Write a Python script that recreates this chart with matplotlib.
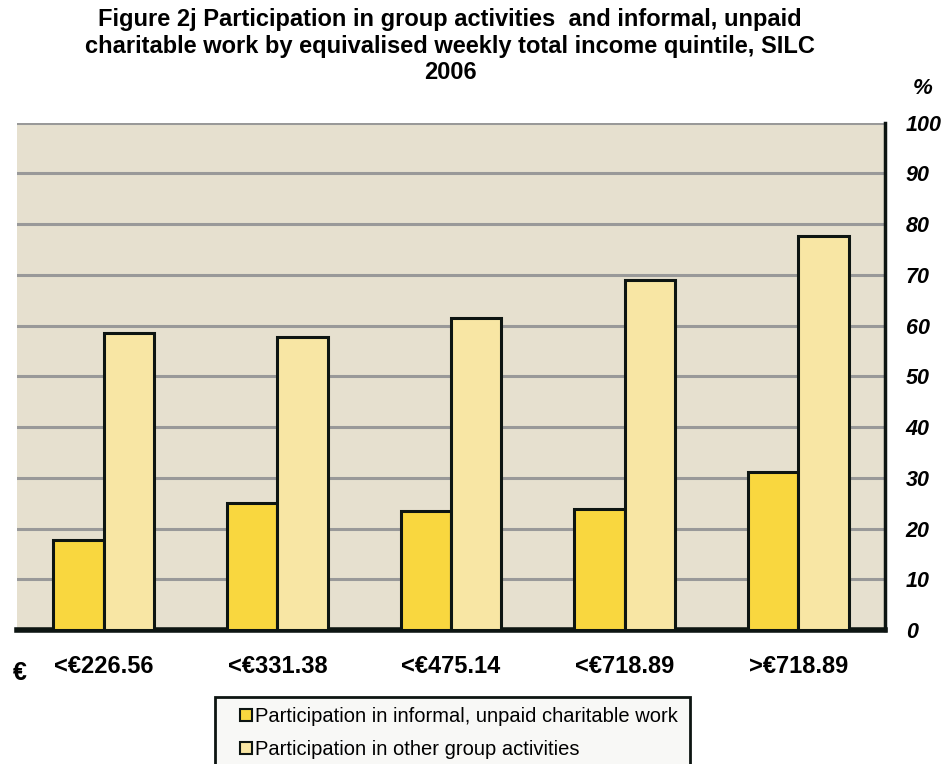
import matplotlib.pyplot as plt
from matplotlib.patches import Rectangle
import numpy as np

plt.rcParams['font.family'] = ['Liberation Sans', 'DejaVu Sans']

categories = ['<€226.56', '<€331.38', '<€475.14', '<€718.89', '>€718.89']
charitable = [17.8, 25.0, 23.5, 23.9, 31.1]
group_act = [58.6, 57.8, 61.5, 69.0, 77.6]
series_names = ['Participation in informal, unpaid charitable work',
                'Participation in other group activities']

W, H = 942, 764
fig = plt.figure(figsize=(W / 100, H / 100), dpi=100)
ax = fig.add_axes([0.018, 0.1754, 0.9215, 0.664])
ax.set_facecolor('#E6E0CF')

x = np.arange(len(categories))
w = 0.29
ax.bar(x - w / 2, charitable, w, color='#F9D73F', edgecolor='#0d1512', linewidth=2.2,
       label=series_names[0], zorder=3)
ax.bar(x + w / 2, group_act, w, color='#F8E6A4', edgecolor='#0d1512', linewidth=2.2,
       label=series_names[1], zorder=3)

ax.set_xlim(-0.5, len(categories) - 0.5)
ax.set_ylim(0, 100)
ax.set_yticks(range(0, 101, 10))
ax.yaxis.tick_right()
ax.tick_params(axis='y', length=0, pad=15)
ax.tick_params(axis='x', length=0, pad=18)
for lab in ax.get_yticklabels():
    lab.set_fontsize(15.5)
    lab.set_fontweight('bold')
    lab.set_fontstyle('italic')
ax.set_xticks(x)
ax.set_xticklabels(categories, fontsize=17, fontweight='bold')

ax.grid(axis='y', color='#999999', linewidth=2.2, zorder=0)
ax.set_axisbelow(True)
ax.spines['left'].set_visible(False)
ax.spines['top'].set_visible(False)
ax.spines['right'].set_color('#0d1512')
ax.spines['right'].set_linewidth(2.5)
ax.spines['bottom'].set_color('#0d1512')
ax.spines['bottom'].set_linewidth(4)

fig.text(0.478, 1 - 8 / H, 'Figure 2j Participation in group activities  and informal, unpaid\n'
         'charitable work by equivalised weekly total income quintile, SILC\n2006',
         ha='center', va='top', fontsize=17, fontweight='bold', linespacing=1.2)
fig.text(0.979, 1 - 88 / H, '%', ha='center', va='center', fontsize=16,
         fontweight='bold', fontstyle='italic')
fig.text(20 / W, 1 - 673 / H, '€', ha='center', va='center', fontsize=18, fontweight='bold')

# legend box runs off the bottom edge of the figure
fig.patches.append(Rectangle((215 / W, -0.02), (690 - 215) / W, (0.02 + 1 - 697 / H),
                             transform=fig.transFigure, facecolor='#F8F8F6',
                             edgecolor='#0d1512', linewidth=2, zorder=1))
leg = fig.legend(loc='upper left', bbox_to_anchor=(240 / W, 1 - 707 / H), fontsize=14.5,
                 frameon=False, handlelength=0.6, handleheight=0.6,
                 handletextpad=0.15, borderpad=0, labelspacing=0.7,
                 borderaxespad=0)
leg.set_zorder(2)
for h in leg.legend_handles:
    h.set_linewidth(1.5)

fig.savefig('out.png', dpi=100)
